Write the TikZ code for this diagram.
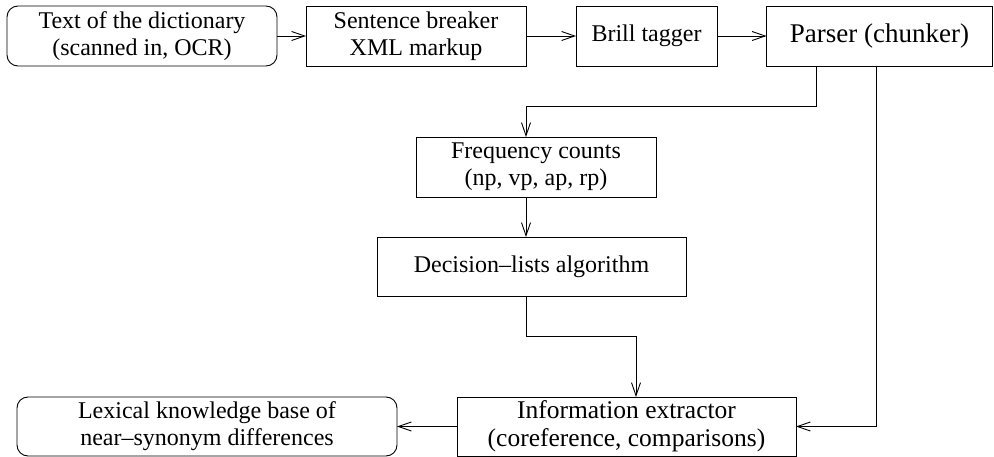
\documentclass[tikz,border=0pt]{standalone}
\usepackage{fontspec}
\setmainfont{Liberation Serif}
\usetikzlibrary{arrows.meta}
\tikzset{
  box/.style={draw, line width=0.9pt, inner sep=0pt, outer sep=0pt, align=center,
    font=\fontsize{24}{27}\selectfont},
  rbox/.style={box, rounded corners=11pt},
  arr/.style={line width=0.9pt, -{Straight Barb[length=13pt,width=9pt,line width=0.9pt]}}
}
\begin{document}
\begin{tikzpicture}[x=1pt,y=-1pt]
\useasboundingbox (0,0) rectangle (994,457);
\node[rbox, minimum width=270pt, minimum height=60pt] (dict) at (142,36) {Text of the dictionary\\(scanned in, OCR)};
\node[box, minimum width=220pt, minimum height=60pt] (sb) at (416,36) {Sentence breaker\\XML markup};
\node[box, minimum width=141pt, minimum height=60pt] (brill) at (646.5,36) {Brill tagger};
\node[box, minimum width=226pt, minimum height=60pt, font=\fontsize{27}{30}\selectfont] (parser) at (879.5,36) {Parser (chunker)};
\node[box, minimum width=240pt, minimum height=60pt] (freq) at (536,167) {Frequency counts\\(np, vp, ap, rp)};
\node[box, minimum width=309pt, minimum height=59pt] (dec) at (531.5,266.5) {Decision–lists algorithm};
\node[box, minimum width=339pt, minimum height=59pt, font=\fontsize{25.5}{28}\selectfont] (info) at (626.5,426.5) {Information extractor\\(coreference, comparisons)};
\node[rbox, minimum width=380pt, minimum height=59pt] (lex) at (207,426.5) {Lexical knowledge base of\\near–synonym differences};

\draw[arr] (dict) -- (sb);
\draw[arr] (sb) -- (brill);
\draw[arr] (brill) -- (parser);
\draw[arr] ([xshift=-63.5pt]parser.south) |- ([xshift=-10pt,yshift=31pt]freq.north) -- ([xshift=-10pt]freq.north);
\draw[arr] ([xshift=-3.5pt]parser.south) |- (info.east);
\draw[arr] ([xshift=-10pt]freq.south) -- ([xshift=-10pt]freq.south |- dec.north);
\draw[arr] ([xshift=-5.5pt]dec.south) |- ([xshift=9.5pt,yshift=61pt]info.north) -- ([xshift=9.5pt]info.north);
\draw[arr] (info) -- (lex);
\end{tikzpicture}
\end{document}
